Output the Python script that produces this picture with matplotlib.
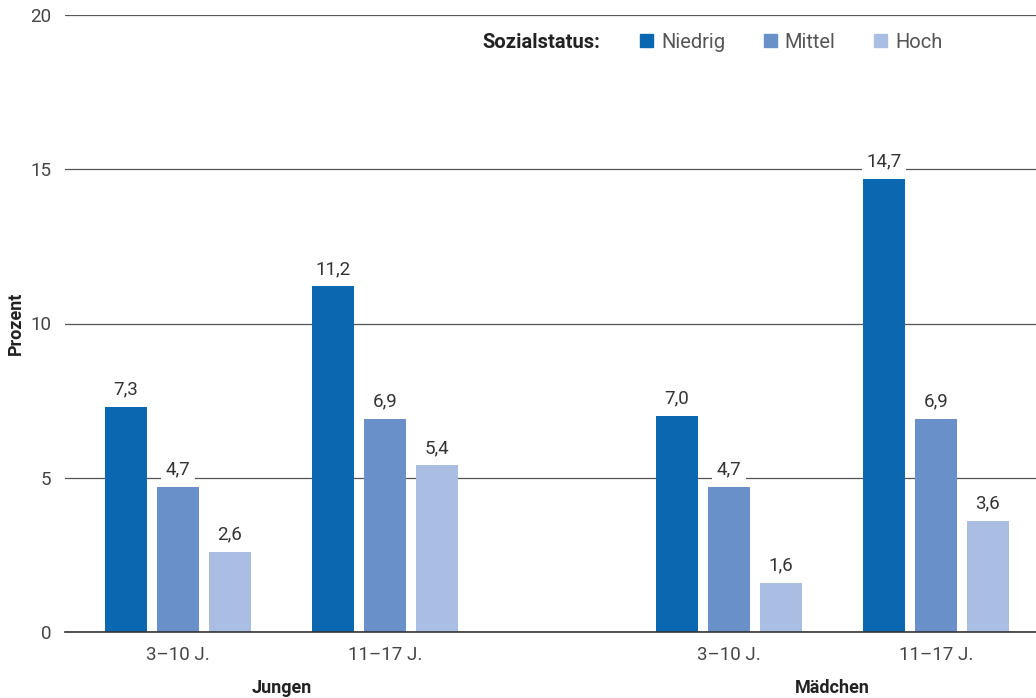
import numpy as np
import matplotlib.pyplot as plt
from matplotlib.patches import Patch

plt.rcParams['font.family'] = ['Roboto', 'DejaVu Sans']

# Daten
kategorien = ['3–10 J.', '11–17 J.', '3–10 J.', '11–17 J.']
gruppen = ['Jungen', 'Mädchen']
status = ['Niedrig', 'Mittel', 'Hoch']
niedrig = [7.3, 11.2, 7.0, 14.7]
mittel = [4.7, 6.9, 4.7, 6.9]
hoch = [2.6, 5.4, 1.6, 3.6]
farben = ['#0b67b0', '#6a90c9', '#aabde2']

x = np.array([0, 1, 2.662, 3.662])
breite = 0.203
versatz = 0.251

fig = plt.figure(figsize=(10.36, 6.98), dpi=100)
ax = fig.add_axes([65 / 1036, (698 - 632) / 698, 1 - 65 / 1036, (632 - 15) / 698])

for i, (werte, farbe) in enumerate(zip([niedrig, mittel, hoch], farben)):
    pos = x + (i - 1) * versatz
    ax.bar(pos, werte, width=breite, color=farbe, zorder=2, label=status[i])
    for px, v in zip(pos, werte):
        ax.annotate(f'{v:.1f}'.replace('.', ','), (px, v), xytext=(0, 6),
                    textcoords='offset points', ha='center', va='bottom',
                    fontsize=13.5, color='#333333', zorder=4,
                    bbox=dict(boxstyle='square,pad=0.25', fc='white', ec='none'))

ax.set_xlim(-0.546, 4.145)
ax.set_ylim(0, 20)
ax.set_yticks([0, 5, 10, 15, 20])
ax.set_yticklabels(['0', '5', '10', '15', '20'])
ax.yaxis.grid(True, color='#555555', linewidth=0.9, zorder=0)
ax.set_axisbelow(True)
for s in ['top', 'right', 'left']:
    ax.spines[s].set_visible(False)
ax.spines['bottom'].set_color('#333333')
ax.spines['bottom'].set_linewidth(1.2)
ax.tick_params(axis='both', length=0, labelsize=13.5, colors='#444444')
ax.tick_params(axis='y', pad=10)
ax.tick_params(axis='x', pad=10)
ax.set_xticks(x)
ax.set_xticklabels(kategorien)

ax.set_ylabel('Prozent', fontsize=13, fontweight='bold', color='#222222', labelpad=4)

for gx, name in zip([(x[0] + x[1]) / 2, (x[2] + x[3]) / 2], gruppen):
    ax.text(gx, -0.09, name, transform=ax.get_xaxis_transform(), ha='center',
            va='center', fontsize=13, fontweight='bold', color='#222222')

fig.text(541 / 1036, 1 - 42 / 698, 'Sozialstatus:', ha='center', va='center',
         fontsize=14.5, fontweight='bold', color='#222222')
handles = [Patch(color=c, label=l) for c, l in zip(farben, status)]
leg = fig.legend(handles=handles, loc='center left', ncol=3,
                 bbox_to_anchor=(640 / 1036, 1 - 42 / 698), frameon=False,
                 handlelength=0.65, handleheight=0.65, handletextpad=0.4,
                 columnspacing=1.9, fontsize=14.5, borderaxespad=0,
                 borderpad=0)
for t in leg.get_texts():
    t.set_color('#555555')

fig.savefig('out.png', dpi=100)
